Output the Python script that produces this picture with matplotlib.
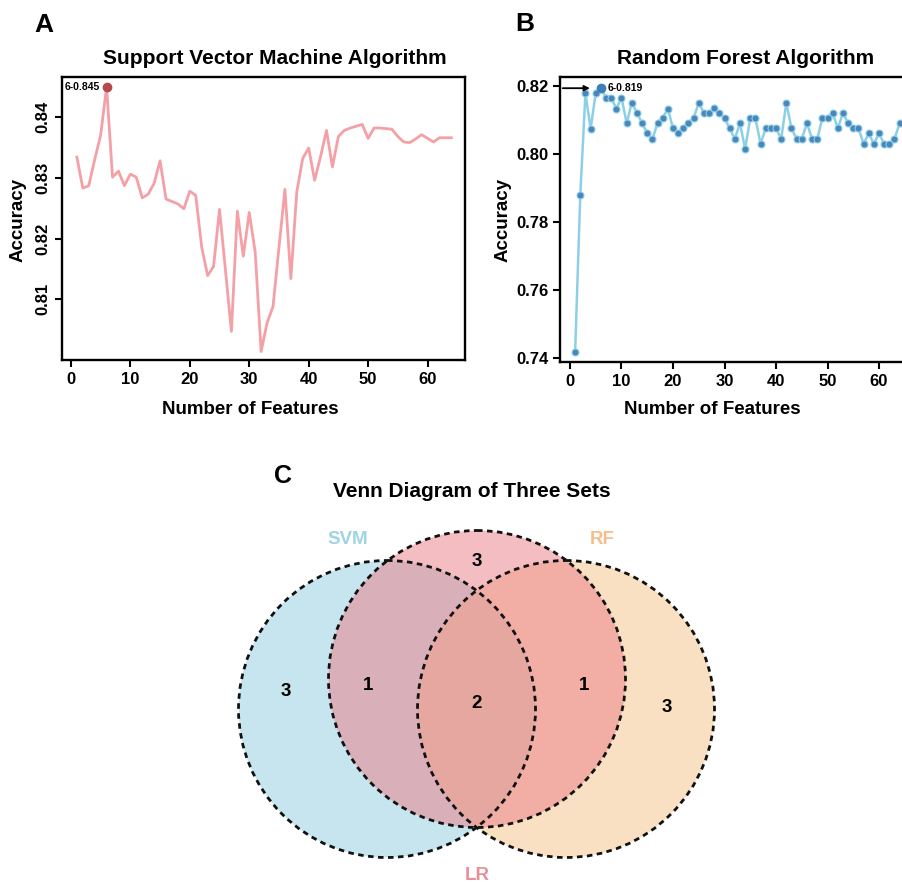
import numpy as np
import matplotlib
matplotlib.use("Agg")
import matplotlib.pyplot as plt
from matplotlib.patches import Circle

plt.rcParams['font.family'] = ['Liberation Sans', 'DejaVu Sans']
plt.rcParams['font.weight'] = 'bold'

# data
n_features = list(range(1, 65))
svm_acc = [0.8334, 0.8283, 0.8287, 0.8330, 0.8370, 0.8450, 0.8301, 0.8311, 0.8287, 0.8306,
           0.8301, 0.8267, 0.8273, 0.8291, 0.8328, 0.8265, 0.8261, 0.8257, 0.8249, 0.8278,
           0.8271, 0.8186, 0.8139, 0.8154, 0.8248, 0.8148, 0.8047, 0.8245, 0.8171, 0.8243,
           0.8178, 0.8014, 0.8061, 0.8088, 0.8185, 0.8281, 0.8134, 0.8277, 0.8332, 0.8349,
           0.8296, 0.8335, 0.8378, 0.8318, 0.8368, 0.8378, 0.8382, 0.8385, 0.8388, 0.8365,
           0.8382, 0.8382, 0.8381, 0.8380, 0.8368, 0.8359, 0.8358, 0.8364, 0.8371, 0.8365,
           0.8359, 0.8366, 0.8366, 0.8366]
rf_acc = [0.7417, 0.7880, 0.8180, 0.8074, 0.8180, 0.8194, 0.8166, 0.8166, 0.8134, 0.8166,
          0.8091, 0.8151, 0.8121, 0.8091, 0.8061, 0.8044, 0.8091, 0.8106, 0.8134, 0.8076,
          0.8061, 0.8076, 0.8091, 0.8106, 0.8151, 0.8121, 0.8121, 0.8136, 0.8121, 0.8106,
          0.8076, 0.8044, 0.8091, 0.8015, 0.8106, 0.8106, 0.8030, 0.8076, 0.8076, 0.8076,
          0.8044, 0.8151, 0.8076, 0.8044, 0.8044, 0.8091, 0.8044, 0.8044, 0.8106, 0.8106,
          0.8121, 0.8076, 0.8121, 0.8091, 0.8076, 0.8076, 0.8030, 0.8061, 0.8030, 0.8061,
          0.8030, 0.8030, 0.8044, 0.8091]
svm_best = (6, 0.845)
rf_best = (6, 0.8194)

set_names = ['SVM', 'LR', 'RF']
set_colors = ['#91cde1', '#eb7d87', '#f7c387']
label_colors = ['#9fd3e6', '#e8909a', '#f4bf8c']
region_counts = {'SVM': 3, 'LR': 3, 'RF': 3, 'SVM&LR': 1, 'LR&RF': 1, 'SVM&LR&RF': 2}

W, H = 903, 882
fig = plt.figure(figsize=(W / 100, H / 100), dpi=100)


def px_rect(left, top, right, bottom):
    return [left / W, 1 - bottom / H, (right - left) / W, (bottom - top) / H]


def ftext(x, y, s, **kw):
    fig.text(x / W, 1 - y / H, s, **kw)


# ---- Venn (background overlay, pixel coordinates) ----
axv = fig.add_axes([0, 0, 1, 1])
axv.set_xlim(0, W)
axv.set_ylim(H, 0)
axv.axis('off')
r = 148.5
cx, cy = 477, 709
centres = {'SVM': (cx - 90, cy), 'LR': (cx, cy - 30), 'RF': (cx + 89, cy)}
for name in ['SVM', 'RF', 'LR']:
    col = set_colors[set_names.index(name)]
    axv.add_patch(Circle(centres[name], r, facecolor=col, edgecolor='none', alpha=0.5))
for name in set_names:
    axv.add_patch(Circle(centres[name], r, facecolor='none', edgecolor='#111111',
                         lw=2.0, ls=(0, (2.0, 1.6))))

region_pos = {'SVM': (286, 692), 'LR': (477, 561), 'RF': (667, 708),
              'SVM&LR': (368, 686), 'LR&RF': (584, 686), 'SVM&LR&RF': (477, 703)}
for key, n in region_counts.items():
    x, y = region_pos[key]
    axv.text(x, y, str(n), ha='center', va='center', fontsize=13.5, fontweight='bold')
label_pos = {'SVM': (348, 540), 'LR': (477, 875), 'RF': (602, 540)}
for name, col in zip(set_names, label_colors):
    x, y = label_pos[name]
    axv.text(x, y, name, ha='center', va='center', fontsize=13.5, fontweight='bold', color=col)

# ---- A: SVM ----
axA = fig.add_axes(px_rect(62, 77, 465, 360))
axA.plot(n_features, svm_acc, color='#f4a0a6', lw=2)
axA.plot(*svm_best, 'o', color='#b5474f', ms=6)
axA.annotate(f'{svm_best[0]}-{svm_best[1]:.3f}', svm_best, xytext=(-5, 0),
             textcoords='offset points', ha='right', va='center', fontsize=7.5, fontweight='bold')
axA.set_xlim(-1.5, 66.3)
axA.set_ylim(0.800, 0.8466)
axA.set_xticks(range(0, 61, 10))
axA.set_yticks([0.81, 0.82, 0.83, 0.84])
axA.set_yticklabels(['0.81', '0.82', '0.83', '0.84'], rotation=90, va='center')
axA.tick_params(labelsize=12, width=1.5, length=5)

# ---- B: RF ----
axB = fig.add_axes(px_rect(560, 77, 912, 362))
axB.plot(n_features, rf_acc, color='#8ccfe8', lw=1.8, marker='o', ms=5,
         mfc='#4a86b8', mec='#8ccfe8', mew=0.8)
axB.plot(*rf_best, 'o', color='#3f7fb5', ms=6)
axB.set_xlim(-1.94, 66.4)
axB.set_ylim(0.7387, 0.8227)
axB.annotate('', xy=(4.4, rf_best[1]), xytext=(-1.94, rf_best[1]),
             arrowprops=dict(arrowstyle='-|>', color='black', lw=1.3, mutation_scale=8))
axB.annotate(f'{rf_best[0]}-{rf_best[1]:.3f}', rf_best, xytext=(5, 0),
             textcoords='offset points', ha='left', va='center', fontsize=7.5, fontweight='bold')
axB.set_xticks(range(0, 61, 10))
axB.set_yticks([0.74, 0.76, 0.78, 0.80, 0.82])
axB.set_yticklabels(['0.74', '0.76', '0.78', '0.80', '0.82'])
axB.tick_params(labelsize=12, width=1.5, length=5)

for ax in (axA, axB):
    for s in ax.spines.values():
        s.set_linewidth(1.7)
    for lab in ax.get_xticklabels() + ax.get_yticklabels():
        lab.set_fontweight('bold')

# axis labels / titles / panel letters
ftext(18, 220, 'Accuracy', rotation=90, ha='center', va='center', fontsize=13.5, fontweight='bold')
ftext(503, 220, 'Accuracy', rotation=90, ha='center', va='center', fontsize=13.5, fontweight='bold')
ftext(250, 410, 'Number of Features', ha='center', va='center', fontsize=13.5, fontweight='bold')
ftext(712, 410, 'Number of Features', ha='center', va='center', fontsize=13.5, fontweight='bold')
ftext(275, 59, 'Support Vector Machine Algorithm', ha='center', va='center', fontsize=15, fontweight='bold')
ftext(746, 59, 'Random Forest Algorithm', ha='center', va='center', fontsize=15, fontweight='bold')
ftext(472, 492, 'Venn Diagram of Three Sets', ha='center', va='center', fontsize=15, fontweight='bold')
ftext(44, 25, 'A', ha='center', va='center', fontsize=19, fontweight='bold')
ftext(525, 24, 'B', ha='center', va='center', fontsize=19, fontweight='bold')
ftext(283, 476, 'C', ha='center', va='center', fontsize=18, fontweight='bold')

fig.savefig('out.png', dpi=100)
